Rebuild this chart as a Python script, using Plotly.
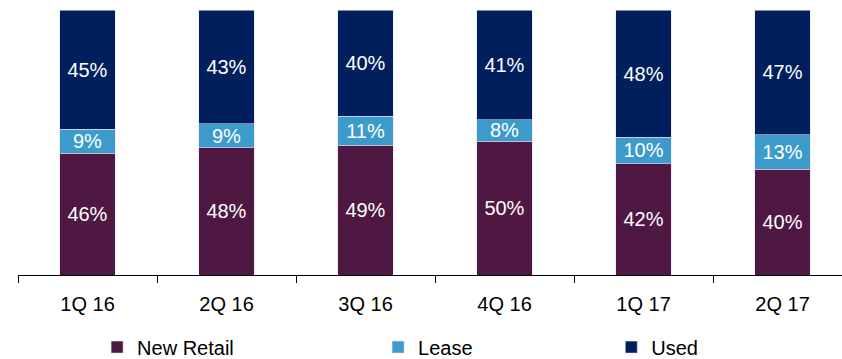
import plotly.graph_objects as go

quarters = ["1Q 16", "2Q 16", "3Q 16", "4Q 16", "1Q 17", "2Q 17"]
new_retail = [46, 48, 49, 50, 42, 40]
lease = [9, 9, 11, 8, 10, 13]
used = [45, 43, 40, 41, 48, 47]

series = [
    ("New Retail", new_retail, "#4f1842", "legend"),
    ("Lease", lease, "#3c9bcb", "legend2"),
    ("Used", used, "#001f5c", "legend3"),
]

FONT = "Liberation Sans, Arial, sans-serif"

fig = go.Figure()
for name, vals, color, leg in series:
    fig.add_trace(go.Bar(
        name=name,
        x=quarters,
        y=vals,
        text=[f"{v}%" for v in vals],
        texttemplate="%{text}",
        textposition="inside",
        insidetextanchor="middle",
        textangle=0,
        textfont=dict(family=FONT, size=20, color="white"),
        marker=dict(color=color, line=dict(color="rgba(230,225,240,0.7)", width=0.8)),
        legend=leg,
        showlegend=True,
        hoverinfo="name+y",
    ))

legend_common = dict(
    orientation="h",
    yanchor="middle",
    y=-0.272,
    xanchor="left",
    bgcolor="rgba(0,0,0,0)",
    font=dict(family=FONT, size=20, color="black"),
    itemwidth=30,
    tracegroupgap=0,
)

fig.update_layout(
    width=842,
    height=359,
    margin=dict(l=18, r=0, t=10, b=84, autoexpand=False),
    paper_bgcolor="white",
    plot_bgcolor="white",
    barmode="stack",
    barnorm="percent",
    bargap=0.6,
    uniformtext=dict(mode="show", minsize=20),
    showlegend=True,
    legend=dict(legend_common, x=0.096),
    legend2=dict(legend_common, x=0.437),
    legend3=dict(legend_common, x=0.720),
    xaxis=dict(
        range=[-0.5, 5.428],
        showline=True,
        linecolor="black",
        linewidth=1,
        ticks="outside",
        tickson="boundaries",
        ticklen=7,
        tickcolor="black",
        ticklabelstandoff=11,
        tickfont=dict(family=FONT, size=20, color="black"),
        showgrid=False,
        zeroline=False,
    ),
    yaxis=dict(
        range=[0, 100],
        visible=False,
        showgrid=False,
        zeroline=False,
    ),
)

fig.write_html("out.html")
